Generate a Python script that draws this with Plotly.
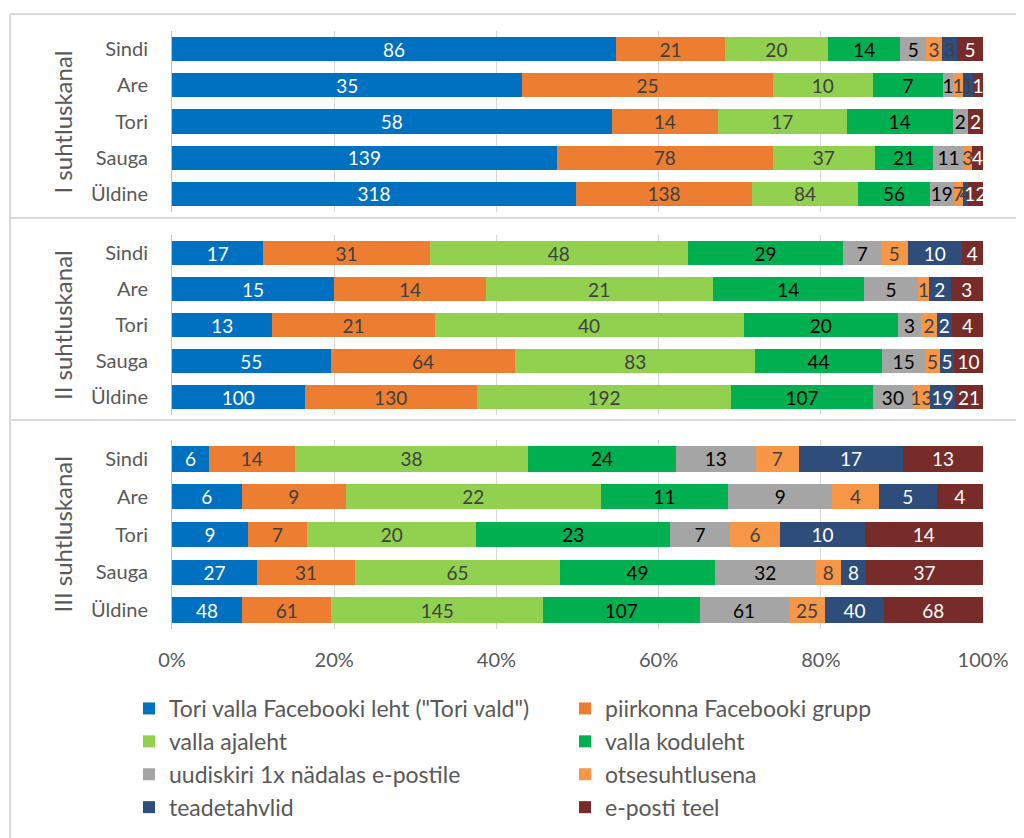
import plotly.graph_objects as go

# kohad (ylevalt alla)
places = ["Sindi", "Are", "Tori", "Sauga", "Üldine"]
panels = ["I suhtluskanal", "II suhtluskanal", "III suhtluskanal"]

series = ['Tori valla Facebooki leht ("Tori vald")', "piirkonna Facebooki grupp",
          "valla ajaleht", "valla koduleht",
          "uudiskiri 1x nädalas e-postile", "otsesuhtlusena",
          "teadetahvlid", "e-posti teel"]

colors = ["#0070C0", "#ED7D31", "#92D050", "#00B050",
          "#A5A5A5", "#F79646", "#2E4D7B", "#772C2A"]

# values per panel: one list per series, order = places
kanal1 = [
    [86, 35, 58, 139, 318],
    [21, 25, 14, 78, 138],
    [20, 10, 17, 37, 84],
    [14, 7, 14, 21, 56],
    [5, 1, 2, 11, 19],
    [3, 1, 0, 3, 7],
    [3, 1, 0, 0, 4],
    [5, 1, 2, 4, 12],
]
kanal2 = [
    [17, 15, 13, 55, 100],
    [31, 14, 21, 64, 130],
    [48, 21, 40, 83, 192],
    [29, 14, 20, 44, 107],
    [7, 5, 3, 15, 30],
    [5, 1, 2, 5, 13],
    [10, 2, 2, 5, 19],
    [4, 3, 4, 10, 21],
]
kanal3 = [
    [6, 6, 9, 27, 48],
    [14, 9, 7, 31, 61],
    [38, 22, 20, 65, 145],
    [24, 11, 23, 49, 107],
    [13, 9, 7, 32, 61],
    [7, 4, 6, 8, 25],
    [17, 5, 10, 8, 40],
    [13, 4, 14, 37, 68],
]
x_ticks = [0, 20, 40, 60, 80, 100]
x_labels = ["0%", "20%", "40%", "60%", "80%", "100%"]

txt_dark = "#404040"
text_colors = [
    ["white", txt_dark, txt_dark, "black", "black", txt_dark, txt_dark, "white"],
    ["white", txt_dark, txt_dark, "black", "black", txt_dark, "white", "white"],
    ["white", txt_dark, txt_dark, "black", "black", txt_dark, "white", "white"],
]

H = 838
OFF = 8  # body margin of the page

def py(px):
    return 1 - (px - OFF) / H

def pxx(px):
    return (px - 172) / 811

domains = [(py(212), py(31)), (py(415), py(235)), (py(629), py(440))]

fig = go.Figure()

for p, data in enumerate([kanal1, kanal2, kanal3]):
    sfx = "" if p == 0 else str(p + 1)
    for i, vals in enumerate(data):
        fig.add_trace(go.Bar(
            y=places, x=vals, orientation="h", name=series[i],
            xaxis="x" + sfx, yaxis="y" + sfx,
            marker=dict(color=colors[i], line=dict(width=0)),
            text=[str(v) if v else "" for v in vals],
            texttemplate="%{text}", textposition="inside",
            insidetextanchor="middle", textangle=0,
            insidetextfont=dict(color=text_colors[p][i], size=19),
            showlegend=(p == 0), legend=("legend" if i % 2 == 0 else "legend2"),
            legendgroup=str(i), hoverinfo="skip",
        ))

leg = dict(xref="container", yref="container", xanchor="left", yanchor="top",
           tracegroupgap=0, traceorder="grouped", bgcolor="rgba(0,0,0,0)",
           font=dict(size=23, color="#595959"))

fig.update_layout(
    width=1024, height=H,
    barmode="stack", barnorm="percent", bargap=0.33,
    plot_bgcolor="white", paper_bgcolor="white",
    font=dict(family="Lato", color="#595959", size=19),
    margin=dict(l=164, r=49, t=0, b=0, autoexpand=False),
    uniformtext=dict(minsize=19, mode="show"),
    legend=dict(leg, x=121 / 1024, y=1 - 679 / H),
    legend2=dict(leg, x=557 / 1024, y=1 - 679 / H),
)

for p in range(3):
    sfx = "" if p == 0 else str(p + 1)
    fig.layout["yaxis" + sfx] = dict(
        domain=list(domains[p]), anchor="x" + sfx, categoryorder="array",
        categoryarray=places, autorange="reversed", automargin=False,
        showline=True, linecolor="#BFBFBF", linewidth=1,
        ticks="", ticklabelstandoff=19,
        tickfont=dict(size=20, color="#595959"))
    fig.layout["xaxis" + sfx] = dict(
        anchor="y" + sfx, range=[0, 100], tickvals=x_ticks, ticktext=x_labels,
        showgrid=True, gridcolor="#D9D9D9", gridwidth=1, automargin=False,
        zeroline=False, showticklabels=(p == 2),
        tickfont=dict(size=20, color="#595959"), ticklabelstandoff=17)
    fig.add_annotation(text=panels[p], xref="paper", yref="y" + sfx + " domain",
                       x=pxx(62), y=0.5, xanchor="center", yanchor="middle",
                       showarrow=False, textangle=-90,
                       font=dict(size=24, color="#595959"))

# ramid paneelide umber
for yy in [14, 218, 420]:
    fig.add_shape(type="line", xref="paper", yref="paper",
                  x0=pxx(10), x1=pxx(1030), y0=py(yy), y1=py(yy),
                  line=dict(color="#D9D9D9", width=2))
fig.add_shape(type="line", xref="paper", yref="paper",
              x0=pxx(10), x1=pxx(10), y0=py(14), y1=py(845),
              line=dict(color="#D9D9D9", width=2))

fig.write_html("out.html")
